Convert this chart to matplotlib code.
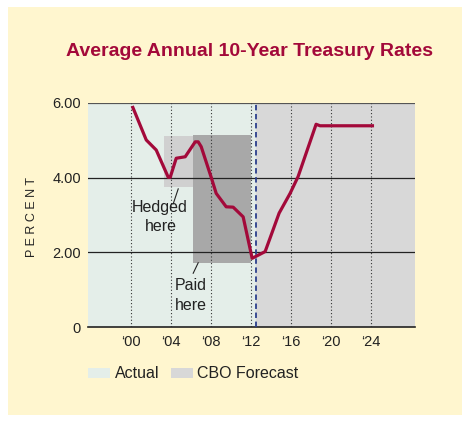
import matplotlib
matplotlib.use('Agg')
import matplotlib.pyplot as plt
from matplotlib.patches import Rectangle

# Datos
anios = [2000.1, 2001.5, 2002.5, 2003.7, 2003.9, 2004.5, 2005.4, 2006.4, 2006.7,
         2007.0, 2008.0, 2008.5, 2009.5, 2010.2, 2011.2, 2012.1, 2013.4, 2014.0,
         2014.8, 2015.9, 2016.7, 2018.5, 2018.9, 2024.3]
tasas = [5.92, 5.01, 4.74, 4.01, 4.01, 4.52, 4.56, 4.96, 4.96,
         4.83, 4.01, 3.58, 3.22, 3.21, 2.95, 1.84, 2.02, 2.46,
         3.05, 3.58, 4.03, 5.43, 5.39, 5.39]

ticks_x = [2000, 2004, 2008, 2012, 2016, 2020, 2024]
etiquetas_x = ['\u201800', '\u201804', '\u201808', '\u201812', '\u201816', '\u201820', '\u201824']
ticks_y = [0, 2, 4, 6]
etiquetas_y = ['0', '2.00', '4.00', '6.00']

inicio_pronostico = 2012.47
caja_cobertura = (2003.27, 2006.3, 3.76, 5.12)   # x0, x1, y0, y1
caja_pago = (2006.2, 2012.0, 1.71, 5.14)

fuente = ['Liberation Sans', 'DejaVu Sans']
rojo = '#A3093A'

fig = plt.figure(figsize=(4.62, 4.23), dpi=100)
fig.patch.set_facecolor('white')
fondo = Rectangle((8 / 462, 8 / 423), 1, 1 - 15 / 423, transform=fig.transFigure,
                  facecolor='#FFF6CF', edgecolor='none', zorder=-10)
fig.patches.append(fondo)

ax = fig.add_axes([88 / 462, 96 / 423, 327 / 462, 224 / 423])
ax.set_zorder(1)
ax.set_xlim(1995.67, 2028.4)
ax.set_ylim(0, 6)

# Fondos actual / pronostico
ax.axvspan(1995.67, inicio_pronostico, color='#E4EEE9', zorder=0)
ax.axvspan(inicio_pronostico, 2028.4, color='#D8D8D8', zorder=0)

# Cajas sombreadas
x0, x1, y0, y1 = caja_cobertura
ax.add_patch(Rectangle((x0, y0), x1 - x0, y1 - y0, facecolor='#D0D0D0', edgecolor='none', zorder=1))
x0, x1, y0, y1 = caja_pago
ax.add_patch(Rectangle((x0, y0), x1 - x0, y1 - y0, facecolor='#A8A8A8', edgecolor='none', zorder=1))

# Rejilla
for y in [2, 4]:
    ax.axhline(y, color='#222222', lw=0.9, zorder=2)
ax.axhline(6, color='#555555', lw=1.6, zorder=2)
for x in ticks_x:
    ax.axvline(x, color='#333333', lw=0.8, ls=(0, (1, 2)), zorder=2)
ax.axvline(inicio_pronostico, color='#2B3F8C', lw=1.3, ls=(0, (3, 2)), zorder=3)

ax.plot(anios, tasas, color=rojo, lw=2.3, solid_capstyle='butt', zorder=4)

for s in ['top', 'right', 'left']:
    ax.spines[s].set_visible(False)
ax.spines['bottom'].set_color('#222222')
ax.spines['bottom'].set_linewidth(1.2)

ax.set_xticks(ticks_x)
ax.set_xticklabels(etiquetas_x, family=fuente, fontsize=10.5, color='#222222')
ax.set_yticks(ticks_y)
ax.set_yticklabels(etiquetas_y, family=fuente, fontsize=10.5, color='#222222')
ax.tick_params(length=0, pad=6)
ax.tick_params(axis='y', pad=5)

fig.text(32 / 462, 1 - 217 / 423, 'P E R C E N T', family=fuente, fontsize=9, color='#222222',
         rotation=90, ha='center', va='center')

# Anotaciones
ax.text(2002.8, 3.2, 'Hedged', family=fuente, fontsize=11.5, ha='center', va='center', color='#222222', zorder=5)
ax.text(2003.0, 2.68, 'here', family=fuente, fontsize=11.5, ha='center', va='center', color='#222222', zorder=5)
ax.plot([2004.7, 2004.2], [3.7, 3.3], color='#222222', lw=0.8, zorder=5)
ax.text(2006.0, 1.12, 'Paid', family=fuente, fontsize=11.5, ha='center', va='center', color='#222222', zorder=5)
ax.text(2006.0, 0.58, 'here', family=fuente, fontsize=11.5, ha='center', va='center', color='#222222', zorder=5)
ax.plot([2006.7, 2006.2], [1.72, 1.44], color='#222222', lw=0.8, zorder=5)

# Titulo
fig.text(250 / 462, 1 - 52 / 423, 'Average Annual 10-Year Treasury Rates', family=fuente,
         fontsize=14, fontweight='bold', color=rojo, ha='center', va='center')

# Leyenda
fig.patches.append(Rectangle((88 / 462, 1 - 378 / 423), 22 / 462, 10 / 423, transform=fig.transFigure,
                             facecolor='#E4EEE9', edgecolor='none'))
fig.text(115 / 462, 1 - 373 / 423, 'Actual', family=fuente, fontsize=11.5, va='center', color='#222222')
fig.patches.append(Rectangle((171 / 462, 1 - 378 / 423), 22 / 462, 10 / 423, transform=fig.transFigure,
                             facecolor='#D8D8D8', edgecolor='none'))
fig.text(197 / 462, 1 - 373 / 423, 'CBO Forecast', family=fuente, fontsize=11.5, va='center', color='#222222')

fig.savefig('out.png', dpi=100, facecolor=fig.get_facecolor())
